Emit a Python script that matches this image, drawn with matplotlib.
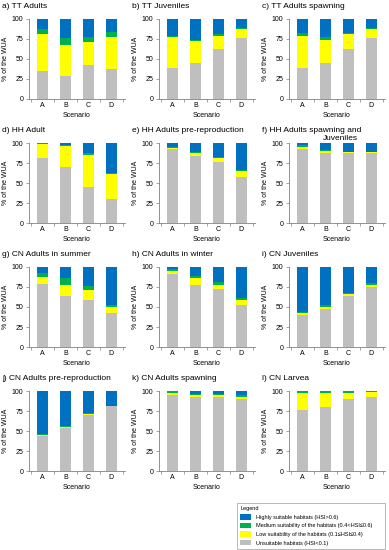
import numpy as np
import matplotlib.pyplot as plt
from matplotlib.patches import Patch

plt.rcParams["font.family"] = ["Liberation Sans", "DejaVu Sans"]

scenarios = ["A", "B", "C", "D"]

titles = [
    "a) TT Adults", "b) TT Juveniles", "c) TT Adults spawning",
    "d) HH Adult", "e) HH Adults pre-reproduction", "f) HH Adults spawning and",
    "g) CN Adults in summer", "h) CN Adults in winter", "i) CN Juveniles",
    "j) CN Adults pre-reproduction", "k) CN Adults spawning", "l) CN Larvea",
]

# cumulative tops per class (unsuitable, low, medium); high fills up to 100
unsuitable = [
    [35, 29, 43, 37], [39, 45, 62, 76], [39, 45, 62, 76],
    [81, 70, 45, 30], [92, 84, 76, 58], [93, 88, 87, 87],
    [79, 64, 59, 43], [91, 78, 72, 53], [40, 47, 64, 75],
    [44, 54, 70, 81], [95, 92, 92.5, 90.5], [76, 80, 90.5, 93],
]
low_top = [
    [81, 67.5, 71, 78], [77, 72.5, 79, 88], [79, 74, 81, 87.5],
    [99, 96, 85, 61], [94, 88, 81, 65], [95.5, 90.5, 89, 89],
    [88, 78, 71, 50], [95, 86, 78, 59], [42, 50, 66, 78],
    [45, 55, 71, 81.3], [98, 95, 95, 93], [98, 98, 98, 99],
]
medium_top = [
    [87.5, 76, 77.5, 84], [79, 74, 81, 89], [82.5, 77.5, 83, 89],
    [100, 97, 87.5, 63], [95.5, 89, 82.5, 66.5], [97, 91, 89, 89],
    [92, 86, 76, 52], [97, 89, 81, 61], [43.5, 52, 67.5, 79.5],
    [46, 56, 72, 81.8], [99.5, 96, 96, 94.5], [100, 100, 100, 100],
]

colors = {"high": "#0070C0", "medium": "#00B050", "low": "#FFFF00", "unsuitable": "#BFBFBF"}

W, H = 389, 550
fig = plt.figure(figsize=(W / 100, H / 100), dpi=100)

col_x = [29, 159, 289]
row_top = [19, 143, 267, 391]
ax_w, ax_h = 96, 80
x = np.arange(len(scenarios))

for i, title in enumerate(titles):
    r, c = divmod(i, 3)
    left = col_x[c] / W
    bottom = 1 - (row_top[r] + ax_h) / H
    ax = fig.add_axes([left, bottom, ax_w / W, ax_h / H])

    g = np.array(unsuitable[i], dtype=float)
    lo = np.array(low_top[i], dtype=float)
    me = np.array(medium_top[i], dtype=float)
    bw = 0.48
    ax.bar(x, g, bw, color=colors["unsuitable"])
    ax.bar(x, lo - g, bw, bottom=g, color=colors["low"])
    ax.bar(x, me - lo, bw, bottom=lo, color=colors["medium"])
    ax.bar(x, 100 - me, bw, bottom=me, color=colors["high"])

    ax.set_xlim(-0.6, 3.6)
    ax.set_ylim(0, 100)
    ax.set_yticks([0, 25, 50, 75, 100])
    ax.set_xticks(x)
    ax.set_xticklabels(scenarios)
    ax.set_xticks(np.arange(-0.5, 4, 1), minor=True)
    ax.tick_params(axis="both", labelsize=5, length=2, width=0.5, color="#808080", pad=2)
    ax.tick_params(axis="x", which="major", length=0)
    ax.tick_params(axis="x", which="minor", length=2, width=0.5, color="#808080")
    for s in ["top", "right"]:
        ax.spines[s].set_visible(False)
    for s in ["left", "bottom"]:
        ax.spines[s].set_color("#808080")
        ax.spines[s].set_linewidth(0.6)
    ax.set_xlabel("Scenario", fontsize=5, labelpad=2)
    ax.set_ylabel("% of the WUA", fontsize=5, labelpad=2)

    fig.text((col_x[c] - 27) / W, 1 - (row_top[r] - 13) / H, title,
             fontsize=6, ha="left", va="center")
    if i == 5:
        fig.text((col_x[c] + 34) / W, 1 - (row_top[r] - 5) / H, "Juveniles",
                 fontsize=6, ha="left", va="center")

handles = [
    Patch(facecolor=colors["high"], label="Highly suitable habitats (HSI>0.6)"),
    Patch(facecolor=colors["medium"], label="Medium suitability of the habitats (0.4<HSI\u22640.6)"),
    Patch(facecolor=colors["low"], label="Low suitability of the habitats (0.1\u2264HSI\u22640.4)"),
    Patch(facecolor=colors["unsuitable"], label="Unsuitable habitats (HSI<0.1)"),
]
leg = fig.legend(handles=handles, title="Legend", loc="upper left",
                 bbox_to_anchor=(234 / W, 1 - 547 / H, 154 / W, 47 / H),
                 mode="expand", fontsize=4, title_fontsize=4, frameon=True,
                 fancybox=False, handlelength=2.0, handleheight=1.1,
                 borderpad=0.6, labelspacing=0.55, alignment="left")
leg.get_frame().set_edgecolor("#808080")
leg.get_frame().set_linewidth(0.5)

fig.savefig("out.png", dpi=100)
